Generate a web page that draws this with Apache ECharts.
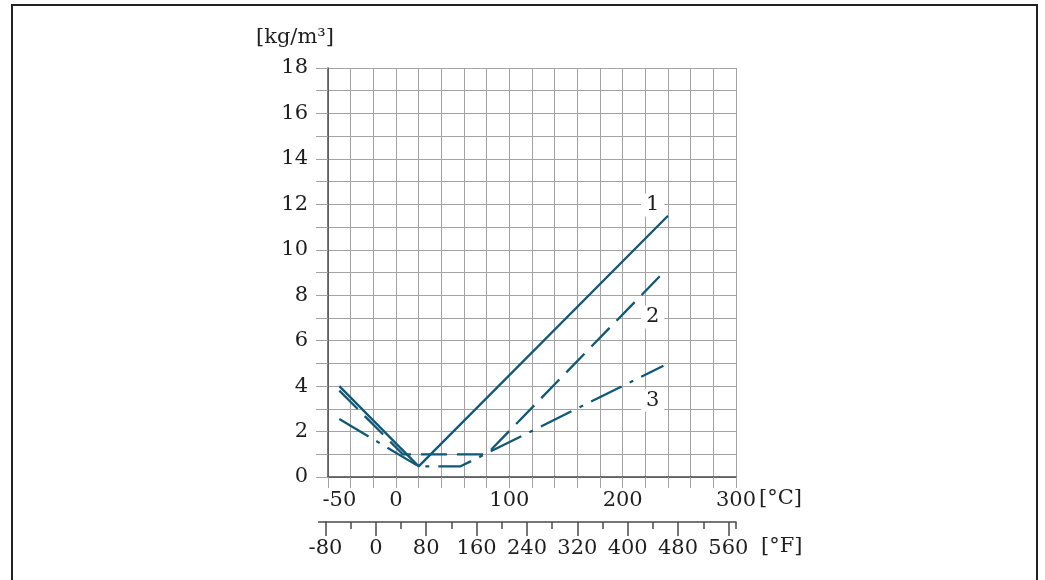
<!DOCTYPE html>
<html>
<head>
<meta charset="utf-8">
<script src="https://cdn.jsdelivr.net/npm/echarts@6/dist/echarts.min.js"></script>
<style>
html, body {margin: 0; padding: 0; background: #fff;}
#chart {width: 1045px; height: 580px;}
</style>
</head>
<body>
<div id="chart"></div>
<script>
// temperature in °C, density in kg/m3
var curve1C = [-50, 20, 240];
var curve1V = [4.0, 0.47, 11.5];
var curve2C = [-50, 6, 80, 236];
var curve2V = [3.8, 1.0, 1.0, 9.0];
var curve3C = [-50, 20, 57, 236];
var curve3V = [2.55, 0.47, 0.47, 4.9];

var curveNames = ['1', '2', '3'];
var curveLabelC = [226.5, 226.5, 226.5];
var curveLabelV = [11.97, 7.04, 3.38];

var celsiusLabels = [-50, 0, 100, 200, 300];

var lineColor = '#0f5878';
var gridColor = '#a3a3a3';
var axisColor = '#4a4a4a';
var textColor = '#1e1e1e';
var fontName = 'DejaVu Serif';
var fontSize = 21;

function toPairs(xs, ys) {
	var out = [];
	for (var i = 0; i < xs.length; i++) {
		out.push([xs[i], ys[i]]);
	}
	return out;
}

function labelPoints() {
	var out = [];
	for (var i = 0; i < curveNames.length; i++) {
		out.push({name: curveNames[i], value: [curveLabelC[i], curveLabelV[i]]});
	}
	return out;
}

var myChart = echarts.init(document.getElementById('chart'), null, {renderer: 'canvas'});

var hiddenY = {
	type: 'value', show: false, min: 0, max: 1
};

var option = {
	animation: false,
	textStyle: {fontFamily: fontName, color: textColor},
	grid: [
		{left: 328, top: 68, width: 408, height: 409},
		// °F axis line with short ticks
		{left: 325.5, top: 522, width: 410.5, height: 0},
		// °F labels and long ticks
		{left: 325.5, top: 522, width: 402.9, height: 0}
	],
	xAxis: [
		{
			gridIndex: 0, type: 'value', position: 'bottom', min: -60, max: 300, interval: 20,
			axisLine: {show: true, onZero: false, lineStyle: {color: axisColor, width: 1.5}},
			axisTick: {show: true, length: 11, lineStyle: {color: gridColor}},
			axisLabel: {show: false},
			splitLine: {show: true, lineStyle: {color: gridColor, width: 1}}
		},
		{
			gridIndex: 0, type: 'value', position: 'bottom', offset: 0, min: -60, max: 300, interval: 10,
			axisLine: {show: false, onZero: false},
			axisTick: {show: false},
			splitLine: {show: false},
			axisLabel: {
				show: true, margin: 13, fontSize: fontSize, color: textColor, fontFamily: fontName,
				showMinLabel: true, showMaxLabel: true, hideOverlap: false,
				formatter: function (v) {
					return celsiusLabels.indexOf(v) != -1 ? String(v) : '';
				}
			}
		},
		{
			gridIndex: 1, type: 'value', position: 'bottom', min: -80, max: 572, interval: 40,
			axisLine: {show: true, onZero: false, lineStyle: {color: axisColor, width: 1.5}},
			axisTick: {show: true, length: 7, lineStyle: {color: axisColor, width: 1.5}},
			axisLabel: {show: false},
			splitLine: {show: false}
		},
		{
			gridIndex: 2, type: 'value', position: 'bottom', min: -80, max: 560, interval: 80,
			axisLine: {show: false, onZero: false},
			axisTick: {show: true, length: 14, lineStyle: {color: axisColor, width: 1.5}},
			splitLine: {show: false},
			axisLabel: {
				show: true, margin: 16, fontSize: fontSize, color: textColor, fontFamily: fontName,
				showMinLabel: true, showMaxLabel: true, hideOverlap: false
			}
		}
	],
	yAxis: [
		{
			gridIndex: 0, type: 'value', min: 0, max: 18, interval: 1,
			axisLine: {show: true, onZero: false, lineStyle: {color: axisColor, width: 1.5}},
			axisTick: {show: true, length: 12, lineStyle: {color: gridColor}},
			splitLine: {show: true, lineStyle: {color: gridColor, width: 1}},
			axisLabel: {
				show: true, margin: 20, fontSize: fontSize, color: textColor, fontFamily: fontName,
				formatter: function (v) {
					return v % 2 == 0 ? String(v) : '';
				}
			}
		},
		echarts.util.extend({gridIndex: 1}, hiddenY),
		echarts.util.extend({gridIndex: 2}, hiddenY)
	],
	series: [
		{
			name: '1', type: 'line', xAxisIndex: 0, yAxisIndex: 0,
			showSymbol: false, silent: true,
			data: toPairs(curve1C, curve1V),
			lineStyle: {color: lineColor, width: 2.3}
		},
		{
			name: '2', type: 'line', xAxisIndex: 0, yAxisIndex: 0,
			showSymbol: false, silent: true,
			data: toPairs(curve2C, curve2V),
			lineStyle: {color: lineColor, width: 2.3, type: [26, 10]}
		},
		{
			name: '3', type: 'line', xAxisIndex: 0, yAxisIndex: 0,
			showSymbol: false, silent: true,
			data: toPairs(curve3C, curve3V),
			lineStyle: {color: lineColor, width: 2.3, type: [34, 9, 4, 9]}
		},
		{
			name: 'labels', type: 'scatter', xAxisIndex: 0, yAxisIndex: 0,
			symbolSize: 0, silent: true, z: 5,
			data: labelPoints(),
			itemStyle: {color: textColor, opacity: 1},
			label: {
				show: true, position: 'inside', formatter: '{b}',
				fontSize: fontSize, fontFamily: fontName, color: textColor,
				backgroundColor: '#fff', padding: [1, 5, 1, 5]
			}
		}
	],
	graphic: [
		{
			type: 'rect', silent: true,
			shape: {x: 12, y: 5, width: 1025, height: 620},
			style: {fill: 'none', stroke: '#222', lineWidth: 2}
		},
		{
			type: 'line', silent: true,
			shape: {x1: 318, y1: 522, x2: 326, y2: 522},
			style: {stroke: axisColor, lineWidth: 1.5}
		},
		{
			type: 'text', left: 256, top: 27,
			style: {text: '[kg/m³]', fontSize: fontSize, fontFamily: fontName, fill: textColor}
		},
		{
			type: 'text', left: 759, top: 488,
			style: {text: '[°C]', fontSize: fontSize, fontFamily: fontName, fill: textColor}
		},
		{
			type: 'text', left: 761, top: 536,
			style: {text: '[°F]', fontSize: fontSize, fontFamily: fontName, fill: textColor}
		}
	]
};
myChart.setOption(option, true);
</script>
</body>
</html>
